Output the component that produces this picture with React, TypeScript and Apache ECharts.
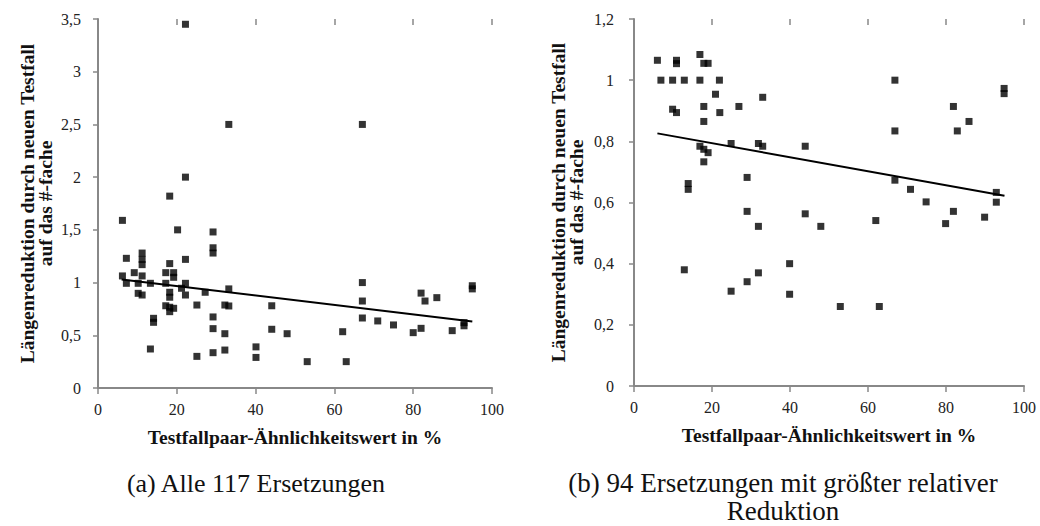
import React, { useEffect, useRef } from "react";
import * as echarts from "echarts";

// (a) all replacements: [similarity %, length reduction factor]
const leftPoints: [number, number][] = [
  [22.2, 3.45], [33.2, 2.5], [67.1, 2.5], [22.2, 2.0], [18.2, 1.82], [6.2, 1.59],
  [20.2, 1.5], [29.2, 1.48], [29.2, 1.33], [29.2, 1.28], [11.2, 1.28], [11.2, 1.22],
  [11.2, 1.17], [7.2, 1.23], [22.2, 1.22], [18.2, 1.18],
  [6.2, 1.063], [9.2, 1.094], [11.2, 1.063], [7.2, 0.993], [10.2, 0.993], [13.3, 0.993],
  [17.2, 1.094], [17.2, 0.993], [19.2, 1.094], [19.2, 1.05], [22.2, 0.993], [21.2, 0.946],
  [27.2, 0.908], [33.2, 0.94], [10.2, 0.898], [11.2, 0.882], [18.2, 0.908], [18.2, 0.861],
  [22.2, 0.882], [17.2, 0.78], [18.2, 0.766], [19.2, 0.756], [18.2, 0.724], [25.1, 0.787],
  [32.2, 0.787], [33.2, 0.778], [14.1, 0.661], [14.1, 0.623], [29.2, 0.674], [29.2, 0.563],
  [32.2, 0.515], [13.3, 0.37], [25.1, 0.3], [29.2, 0.335], [32.2, 0.36],
  [67.1, 1.0], [82, 0.9], [86, 0.857], [83, 0.825], [67.1, 0.825], [95, 0.97], [95, 0.94],
  [44.1, 0.78], [67.1, 0.664], [71, 0.636], [75, 0.598], [92.9, 0.62], [92.9, 0.59],
  [44.1, 0.557], [48, 0.515], [62.1, 0.534], [82, 0.566], [80, 0.525], [89.9, 0.544],
  [40.1, 0.39], [40.1, 0.29], [53.1, 0.25], [63, 0.25],
];

// (b) replacements with the largest relative reduction
const rightPoints: [number, number][] = [
  [6.0, 1.065], [10.9, 1.065], [10.9, 1.054], [16.9, 1.084], [17.9, 1.055], [19.0, 1.055],
  [6.9, 1.0], [9.9, 1.0], [12.9, 1.0], [16.9, 1.0], [21.9, 1.0], [20.9, 0.954], [33.0, 0.944],
  [9.9, 0.905], [10.9, 0.894], [17.9, 0.914], [22.0, 0.894], [26.9, 0.914], [17.9, 0.865],
  [16.9, 0.784], [17.9, 0.774], [19.0, 0.763], [17.9, 0.733], [24.9, 0.793], [31.9, 0.793],
  [33.0, 0.784], [43.9, 0.784], [29.0, 0.682], [13.9, 0.662], [13.9, 0.643], [29.0, 0.571],
  [43.9, 0.563], [31.9, 0.522], [47.9, 0.522], [12.9, 0.38], [39.9, 0.4], [31.9, 0.37],
  [29.0, 0.341], [24.9, 0.31], [39.9, 0.3], [66.9, 1.0], [94.9, 0.973], [94.9, 0.956],
  [81.9, 0.914], [85.9, 0.865], [66.9, 0.834], [82.9, 0.834], [66.9, 0.673], [70.9, 0.643],
  [74.9, 0.602], [92.9, 0.633], [92.9, 0.601], [81.9, 0.571], [62, 0.541], [79.9, 0.531],
  [89.9, 0.552], [52.9, 0.26], [62.9, 0.26],
];

// linear trend lines (endpoints)
const leftTrend: [number, number][] = [[6, 1.03], [95, 0.63]];
const rightTrend: [number, number][] = [[6, 0.826], [95, 0.622]];

const xTicks = { min: 0, max: 100, interval: 20 };
const leftY = { min: 0, max: 3.5, interval: 0.5 };
const rightY = { min: 0, max: 1.2, interval: 0.2 };

const xTitle = "Testfallpaar-Ähnlichkeitswert in %";
const yTitle = "Längenreduktion durch neuen Testfall\nauf das #-fache";
const captionA = "(a) Alle 117 Ersetzungen";
const captionB = "(b) 94 Ersetzungen mit größter relativer\nReduktion";

const FONT = "Liberation Serif";
const AXIS_COLOR = "#888888";

const fmt = (v: number) => String(+v.toFixed(2)).replace(".", ",");

export default function App() {
  const ref = useRef<HTMLDivElement>(null);

  useEffect(() => {
    if (!ref.current) return;
    const chart = echarts.init(ref.current, undefined, { renderer: "svg" });

    const makeX = (gridIndex: number) => ({
      type: "value",
      gridIndex,
      ...xTicks,
      name: xTitle,
      nameLocation: "middle",
      nameGap: 39,
      nameTextStyle: { fontFamily: FONT, fontWeight: "bold", fontSize: 19.5, color: "#111" },
      axisLine: { show: true, lineStyle: { color: AXIS_COLOR, width: 2 } },
      axisTick: { show: true, length: 6, lineStyle: { color: AXIS_COLOR, width: 1.5 } },
      axisLabel: { fontFamily: FONT, fontSize: 16, color: "#222", margin: 13 },
      splitLine: { show: false },
    });
    const makeXInner = (gridIndex: number) => ({
      type: "value",
      gridIndex,
      ...xTicks,
      axisLine: { show: false },
      axisTick: { show: true, inside: true, length: 6, lineStyle: { color: AXIS_COLOR, width: 1.5 } },
      axisLabel: { show: false },
      splitLine: { show: false },
    });
    const makeY = (gridIndex: number, cfg: any, gap: number, margin: number) => ({
      type: "value",
      gridIndex,
      ...cfg,
      name: yTitle,
      nameLocation: "middle",
      nameRotate: 90,
      nameGap: gap,
      nameTextStyle: {
        fontFamily: FONT, fontWeight: "bold", fontSize: 19.5, color: "#111", lineHeight: 18, align: "center",
      },
      axisLine: { show: true, lineStyle: { color: AXIS_COLOR, width: 2 } },
      axisTick: { show: true, length: 5, lineStyle: { color: AXIS_COLOR, width: 1.5 } },
      axisLabel: { fontFamily: FONT, fontSize: 16, color: "#222", margin, formatter: fmt },
      splitLine: { show: false },
    });

    chart.setOption({
      animation: false,
      backgroundColor: "#ffffff",
      grid: [
        { left: 98, top: 19, width: 394, height: 369, containLabel: false, outerBoundsMode: "none" },
        { left: 634, top: 19, width: 390, height: 367, containLabel: false, outerBoundsMode: "none" },
      ],
      xAxis: [makeX(0), makeX(1), makeXInner(0), makeXInner(1)],
      yAxis: [makeY(0, leftY, 44, 17), makeY(1, rightY, 49, 20)],
      series: [
        {
          type: "scatter", xAxisIndex: 0, yAxisIndex: 0, data: leftPoints,
          symbol: "rect", symbolSize: 7, itemStyle: { color: "#000" },
        },
        {
          type: "line", xAxisIndex: 0, yAxisIndex: 0, data: leftTrend,
          symbol: "none", lineStyle: { color: "#000", width: 2 },
        },
        {
          type: "scatter", xAxisIndex: 1, yAxisIndex: 1, data: rightPoints,
          symbol: "rect", symbolSize: 7, itemStyle: { color: "#000" },
        },
        {
          type: "line", xAxisIndex: 1, yAxisIndex: 1, data: rightTrend,
          symbol: "none", lineStyle: { color: "#000", width: 2 },
        },
      ],
      graphic: [
        {
          type: "text", x: 256, y: 483,
          style: {
            text: captionA, fontFamily: FONT, fontSize: 26, fill: "#111",
            align: "center", verticalAlign: "middle",
          },
        },
        {
          type: "text", x: 783, y: 497,
          style: {
            text: captionB, fontFamily: FONT, fontSize: 27, lineHeight: 28, fill: "#111",
            align: "center", verticalAlign: "middle",
          },
        },
      ],
    });

    return () => chart.dispose();
  }, []);

  return (
    <div
      ref={ref}
      style={{ position: "absolute", left: 0, top: 0, width: 1040, height: 526, background: "#fff" }}
    />
  );
}
